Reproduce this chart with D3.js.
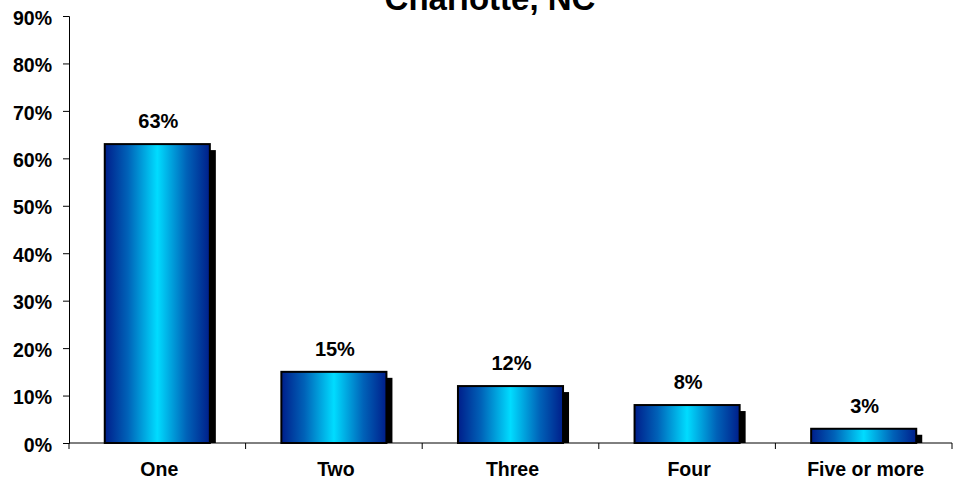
<!DOCTYPE html>
<html>
<head>
<meta charset="utf-8">
<script src="https://cdn.jsdelivr.net/npm/d3@7"></script>
<style>
  html, body { margin: 0; padding: 0; background: #fff; }
  svg { display: block; font-family: Arial, "Liberation Sans", sans-serif; }
</style>
</head>
<body>
<svg id="chart" width="955" height="481"></svg>
<script>
// Number of ... per household, Charlotte, NC
const categories = ["One", "Two", "Three", "Four", "Five or more"];
const values = [63, 15, 12, 8, 3];
const yTicks = [0, 10, 20, 30, 40, 50, 60, 70, 80, 90];
const title = "Charlotte, NC";

const svg = d3.select("#chart");
const margin = { left: 69, right: 3, top: 16, bottom: 38 };
const W = 955, H = 481;
const FONT = "Arial, 'Liberation Sans', sans-serif";

const x = d3.scaleBand()
  .domain(categories)
  .range([margin.left, W - margin.right])
  .paddingInner(0.405)
  .paddingOuter(0.2025);

const y = d3.scaleLinear()
  .domain([0, 90])
  .range([H - margin.bottom, margin.top]);

// horizontal blue gradient: dark edges, bright cyan centre
const defs = svg.append("defs");
const grad = defs.append("linearGradient")
  .attr("id", "barGrad")
  .attr("x1", "0%").attr("x2", "100%").attr("y1", "0%").attr("y2", "0%");
[[0, "#001e8a"], [0.22, "#0062b8"], [0.5, "#00dcff"], [0.78, "#0062b8"], [1, "#001e8a"]]
  .forEach(([o, c]) => grad.append("stop").attr("offset", o).attr("stop-color", c));

// title (sits partly above the top edge)
svg.append("text")
  .attr("x", 490).attr("y", 10)
  .attr("text-anchor", "middle")
  .attr("font-size", 33).attr("font-weight", "bold")
  .text(title);

// y axis
const yAxis = d3.axisLeft(y)
  .tickValues(yTicks)
  .tickFormat(d => d + "%")
  .tickSize(6)
  .tickPadding(11);
const gy = svg.append("g")
  .attr("transform", `translate(${margin.left},0)`)
  .call(yAxis);
gy.select(".domain").attr("stroke", "#000").attr("stroke-width", 1);
gy.selectAll(".tick line").attr("stroke", "#000");
gy.selectAll(".tick text")
  .attr("font-size", 19.5).attr("font-weight", "bold")
  .attr("font-family", FONT)
  .attr("dy", "0.42em")
  .attr("fill", "#000");

// x axis baseline with ticks between categories
const step = x.step();
const boundaries = d3.range(categories.length + 1).map(i => margin.left + i * step);
svg.append("line")
  .attr("x1", margin.left).attr("x2", W - margin.right)
  .attr("y1", y(0)).attr("y2", y(0))
  .attr("stroke", "#000");
svg.selectAll(".xtick")
  .data(boundaries)
  .join("line")
  .attr("class", "xtick")
  .attr("x1", d => d).attr("x2", d => d)
  .attr("y1", y(0)).attr("y2", y(0) + 6)
  .attr("stroke", "#000");

svg.selectAll(".xlabel")
  .data(categories)
  .join("text")
  .attr("class", "xlabel")
  .attr("x", d => x(d) + x.bandwidth() / 2 + 2)
  .attr("y", 476)
  .attr("text-anchor", "middle")
  .attr("font-size", 19.5).attr("font-weight", "bold")
  .text(d => d);

const data = categories.map((c, i) => ({ c, v: values[i] }));
const sh = 6;

// shadows
svg.selectAll(".shadow")
  .data(data)
  .join("rect")
  .attr("class", "shadow")
  .attr("x", d => x(d.c) + sh)
  .attr("y", d => y(d.v) + sh)
  .attr("width", x.bandwidth())
  .attr("height", d => y(0) - y(d.v) - sh)
  .attr("fill", "#000");

// bars
svg.selectAll(".bar")
  .data(data)
  .join("rect")
  .attr("class", "bar")
  .attr("x", d => x(d.c))
  .attr("y", d => y(d.v))
  .attr("width", x.bandwidth())
  .attr("height", d => y(0) - y(d.v))
  .attr("fill", "url(#barGrad)")
  .attr("stroke", "#000")
  .attr("stroke-width", 2);

// value labels
svg.selectAll(".vlabel")
  .data(data)
  .join("text")
  .attr("class", "vlabel")
  .attr("x", d => x(d.c) + x.bandwidth() / 2 + 1)
  .attr("y", d => y(d.v) - 16)
  .attr("text-anchor", "middle")
  .attr("font-size", 20).attr("font-weight", "bold")
  .text(d => d.v + "%");
</script>
</body>
</html>
